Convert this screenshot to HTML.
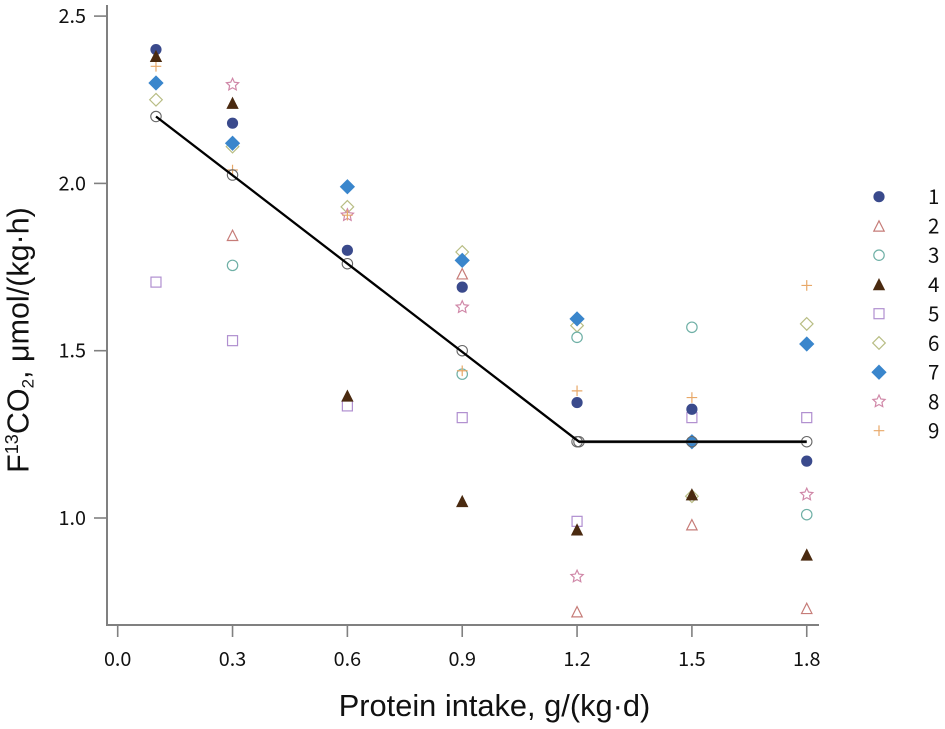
<!DOCTYPE html>
<html>
<head>
<meta charset="utf-8">
<style>
html,body{margin:0;padding:0;background:#fff;width:945px;height:729px;overflow:hidden}
svg{display:block}
.tick{font-family:"Noto Sans CJK JP","Liberation Sans",sans-serif;font-size:19.8px;fill:#111}
.title{font-family:"Liberation Sans",sans-serif;fill:#111}
.leg{font-family:"Noto Sans CJK JP","Liberation Sans",sans-serif;font-size:20.5px;fill:#111}
</style>
</head>
<body>
<svg id="chart" width="945" height="729" viewBox="0 0 945 729" xmlns="http://www.w3.org/2000/svg">
<text class="title" font-size="30.8" x="494.5" y="716" text-anchor="middle">Protein intake, g/(kg·d)</text>
<text class="title" font-size="30.5" transform="translate(28.5,340) rotate(-90)" text-anchor="middle">F<tspan font-size="18" dy="-10.5">13</tspan><tspan dy="10.5">CO</tspan><tspan font-size="17" dy="5">2</tspan><tspan dy="-5">, μmol/(kg·h)</tspan></text>
</svg>
<script>
var xTicks = [0.0, 0.3, 0.6, 0.9, 1.2, 1.5, 1.8];
var yTicks = [1.0, 1.5, 2.0, 2.5];
var categories = [0.1, 0.3, 0.6, 0.9, 1.2, 1.5, 1.8];
var seriesNames = ['1','2','3','4','5','6','7','8','9'];
var series1 = [2.40, 2.18, 1.80, 1.69, 1.345, 1.325, 1.17];
var series2 = [null, 1.845, null, 1.73, 0.72, 0.98, 0.73];
var series3 = [null, 1.755, null, 1.43, 1.54, 1.57, 1.01];
var series4 = [2.38, 2.24, 1.365, 1.05, 0.965, 1.07, 0.89];
var series5 = [1.705, 1.53, 1.335, 1.30, 0.99, 1.30, 1.30];
var series6 = [2.25, 2.11, 1.93, 1.795, 1.575, 1.065, 1.58];
var series7 = [2.30, 2.12, 1.99, 1.77, 1.595, 1.228, 1.52];
var series8 = [null, 2.295, 1.905, 1.63, 0.825, null, 1.07];
var series9 = [2.35, 2.04, 1.905, 1.44, 1.38, 1.36, 1.695];
var lineX = [0.1, 0.3, 0.6, 0.9, 1.2, 1.205, 1.5, 1.8];
var lineY = [2.20, 2.025, 1.76, 1.50, 1.228, 1.228, 1.228, 1.228];
var fitX = [0.1, 1.205, 1.8];
var fitY = [2.20, 1.228, 1.228];

var NS = 'http://www.w3.org/2000/svg';
var svg = document.getElementById('chart');
function xs(v){ return 117.7 + v * 382.8; }
function ys(v){ return 518 - (v - 1.0) * 334.6; }
function mk(tag, attrs, parent){
  var e = document.createElementNS(NS, tag);
  for (var k in attrs) e.setAttribute(k, attrs[k]);
  (parent || svg).appendChild(e);
  return e;
}
var AX = '#808080';

var axL = mk('line', {x1:107, y1:5, x2:107, y2:626, stroke:AX, 'stroke-width':2});


var axB = mk('line', {x1:106, y1:625, x2:819, y2:625, stroke:AX, 'stroke-width':2});



xTicks.forEach(function(t){
  var l = mk('line', {x1:xs(t), y1:625, x2:xs(t), y2:637, stroke:AX, 'stroke-width':1.6});
  
  
  var s = mk('text', {x:xs(t), y:666, 'text-anchor':'middle', 'class':'tick'});
  
  
  s.textContent = t.toFixed(1);
});
yTicks.forEach(function(t){
  var l = mk('line', {x1:94, y1:ys(t), x2:107, y2:ys(t), stroke:AX, 'stroke-width':1.6});
  
  
  var s = mk('text', {x:86, y:ys(t)+7, 'text-anchor':'end', 'class':'tick'});
  
  
  s.textContent = t.toFixed(1);
});

function starPts(cx, cy, R){
  var p = [];
  for (var i = 0; i < 10; i++){
    var r = i % 2 ? R * 0.48 : R;
    var a = -Math.PI / 2 + i * Math.PI / 5;
    p.push((cx + r * Math.cos(a)).toFixed(2) + ',' + (cy + r * Math.sin(a)).toFixed(2));
  }
  return p.join(' ');
}
var styles = {
  '1':{shape:'circle', fill:'#3a4a8c', stroke:'#3a4a8c'},
  '2':{shape:'tri', fill:'none', stroke:'#c67c78'},
  '3':{shape:'circle-o', fill:'none', stroke:'#6fb0a6'},
  '4':{shape:'tri', fill:'#4a2a10', stroke:'#4a2a10'},
  '5':{shape:'square', fill:'none', stroke:'#b08fd0'},
  '6':{shape:'diamond-o', fill:'none', stroke:'#b8bd84'},
  '7':{shape:'diamond', fill:'#3a86cc', stroke:'#3a86cc'},
  '8':{shape:'star', fill:'none', stroke:'#d088a8'},
  '9':{shape:'plus', fill:'none', stroke:'#e8a868'}
};
function marker(name, cx, cy, parent){
  var st = styles[name], e, o = {fill:st.fill, stroke:st.stroke, 'stroke-width':1.2};
  if (st.shape === 'circle'){ o.cx = cx; o.cy = cy; o.r = 5; e = mk('circle', o, parent); }
  else if (st.shape === 'circle-o'){ o.cx = cx; o.cy = cy; o.r = 5.2; e = mk('circle', o, parent); }
  else if (st.shape === 'tri'){ o.points = cx+','+(cy-5.1)+' '+(cx+5.2)+','+(cy+5.2)+' '+(cx-5.2)+','+(cy+5.2); e = mk('polygon', o, parent); }
  else if (st.shape === 'square'){ o.x = cx-5; o.y = cy-5; o.width = 10; o.height = 10; e = mk('rect', o, parent); }
  else if (st.shape === 'diamond-o'){ o.points = cx+','+(cy-6.3)+' '+(cx+6.3)+','+cy+' '+cx+','+(cy+6.3)+' '+(cx-6.3)+','+cy; e = mk('polygon', o, parent); }
  else if (st.shape === 'diamond'){ o.points = cx+','+(cy-6.8)+' '+(cx+6.8)+','+cy+' '+cx+','+(cy+6.8)+' '+(cx-6.8)+','+cy; e = mk('polygon', o, parent); }
  else if (st.shape === 'star'){ o.points = starPts(cx, cy, 6.4); e = mk('polygon', o, parent); }
  else { o.d = 'M'+(cx-5.3)+' '+cy+'H'+(cx+5.3)+'M'+cx+' '+(cy-5.3)+'V'+(cy+5.3); e = mk('path', o, parent); }
  return e;
}
var allSeries = {'1':series1,'2':series2,'3':series3,'4':series4,'5':series5,'6':series6,'7':series7,'8':series8,'9':series9};
var drawOrder = ['6','5','3','2','8','9','1','4','7'];
drawOrder.forEach(function(n){
  allSeries[n].forEach(function(v, i){
    if (v === null) return;
    var m = marker(n, xs(categories[i]), ys(v));
    
    
  });
});

lineX.forEach(function(v, i){
  var c = mk('circle', {cx:xs(v), cy:ys(lineY[i]), r:5.2, fill:'none', stroke:'#666', 'stroke-width':1.1});
  
  
});
var flatPts = lineX.slice(5).map(function(v, i){ return xs(v).toFixed(1) + ',' + ys(lineY[i + 5]).toFixed(1); }).join(' ');
var flat = mk('polyline', {points:flatPts, fill:'none', stroke:'#888', 'stroke-width':3});


var fitPts = fitX.map(function(v, i){ return xs(v).toFixed(1) + ',' + ys(fitY[i]).toFixed(1); }).join(' ');
var fit = mk('polyline', {points:fitPts, fill:'none', stroke:'#000', 'stroke-width':2.3});



seriesNames.forEach(function(n, i){
  var y = 196.7 + i * 29.25;
  var m = marker(n, 879, y);
  
  
  var t = mk('text', {x:928, y:y+7.5, 'class':'leg'});
  
  
  t.textContent = n;
});
</script>
</body>
</html>
